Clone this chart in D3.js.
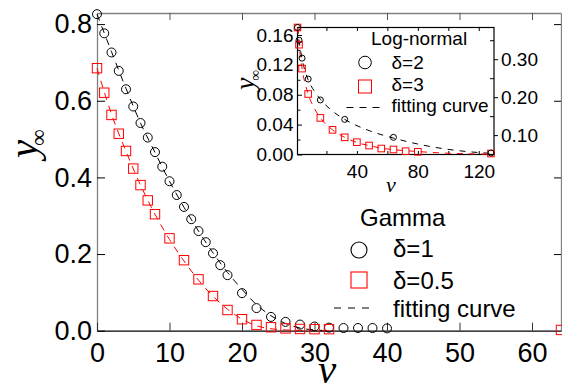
<!DOCTYPE html>
<html>
<head>
<meta charset="utf-8">
<script src="https://cdn.jsdelivr.net/npm/d3@7"></script>
<style>
  body { margin: 0; background: #fff; }
  svg { display: block; }
  text { font-family: "Liberation Sans", Arial, sans-serif; fill: #000; }
  .serif { font-family: "Liberation Serif", "Times New Roman", serif; font-style: italic; }
</style>
</head>
<body>
<svg id="chart" width="562" height="388"></svg>
<script>
// ---- Main panel: Gamma distributions ----
const gammaV1 = [0,1,2,3,4,5,6,7,8,9,10,11,12,13,14,15,16,17,18,20,22,24,26,28,30,32,34,36,38,40];
const gammaY1 = [0.826,0.776,0.726,0.678,0.630,0.585,0.542,0.504,0.466,0.428,0.390,0.354,0.323,0.291,0.260,0.231,0.202,0.171,0.145,0.098,0.059,0.036,0.023,0.016,0.011,0.008,0.007,0.007,0.007,0.006];
const gammaV05 = [0,1,2,3,4,5,6,7,8,10,12,14,16,18,20,22,24,26,28,30,32,64];
const gammaY05 = [0.685,0.621,0.563,0.514,0.469,0.423,0.380,0.340,0.304,0.241,0.184,0.134,0.0905,0.054,0.030,0.015,0.009,0.006,0.0045,0.004,0.004,0.002];
const gammaFitV1 = [0,2,4,6,8,10,12,14,16,18,20,22,24,26,28,30,32];
const gammaFitY1 = [0.826,0.728,0.632,0.542,0.465,0.390,0.322,0.260,0.203,0.152,0.108,0.068,0.039,0.019,0.007,0.002,0];
const gammaFitV05 = [0,2,4,6,8,10,12,14,16,18,20,22,24,26,28,30,32];
const gammaFitY05 = [0.685,0.565,0.468,0.380,0.304,0.238,0.182,0.132,0.090,0.056,0.030,0.013,0.005,0.002,0.001,0,0];
const mainXTicks = [0,10,20,30,40,50,60];
const mainYTicks = [0,0.2,0.4,0.6,0.8];

// ---- Inset: Log-normal distributions ----
const lnV2 = [1,2,4,8,16,32,64,128];
const lnY2 = [0.170,0.153,0.129,0.101,0.073,0.047,0.023,0.002];
const lnV3 = [1,2,4,8,16,24,32,40,48,56,64,72,80,128];
const lnY3 = [0.170,0.147,0.115,0.081,0.049,0.033,0.023,0.0165,0.012,0.008,0.0067,0.0044,0.0036,0.0013];
const lnFitV2 = [1,2,4,8,12,16,24,32,48,64,80,96,112,128];
const lnFitY2 = [0.170,0.153,0.128,0.100,0.085,0.074,0.058,0.047,0.032,0.022,0.014,0.008,0.004,0.0015];
const lnFitV3 = [1,2,4,8,12,16,24,32,40,48,56,64,80,96,112,128];
const lnFitY3 = [0.170,0.147,0.115,0.081,0.062,0.049,0.033,0.023,0.016,0.012,0.0085,0.0065,0.004,0.002,0.001,0.0005];
const insetXTicks = [20,40,60,80,100,120];
const insetXLabels = [40,80,120];
const insetYTicks = [0,0.02,0.04,0.06,0.08,0.10,0.12,0.14,0.16];
const insetYLabels = [0,0.04,0.08,0.12,0.16];
const insetRightLabels = [0.10,0.20,0.30];
const insetRightMinor = [0.15,0.25,0.35];

const RED = "#ff0000";
const svg = d3.select("#chart");

// main scales
const x = d3.scaleLinear().domain([0, 64]).range([97, 561]);
const y = d3.scaleLinear().domain([0, 0.829]).range([330.7, 13]);

// frame
function styleAxis(g, lineColor, fontSize) {
  g.select(".domain").attr("stroke", lineColor).attr("stroke-width", 1.3);
  g.selectAll(".tick line").attr("stroke", "#000").attr("stroke-width", 1);
  g.selectAll(".tick text").attr("font-size", fontSize)
    .attr("font-family", "'Liberation Sans', Arial, sans-serif").attr("fill", "#000");
}

const gTop = svg.append("g").attr("transform", "translate(0,13)")
  .call(d3.axisTop(x).tickValues(mainXTicks.slice(1)).tickSizeInner(-7).tickSizeOuter(0).tickFormat(""));
styleAxis(gTop, "#808080", 0);
gTop.selectAll(".tick line").attr("stroke", "#555");

const gRight = svg.append("g").attr("transform", "translate(561,0)")
  .call(d3.axisRight(y).tickValues(mainYTicks.slice(1)).tickSizeInner(-7).tickSizeOuter(0).tickFormat(""));
styleAxis(gRight, "#808080", 0);

const gLeft = svg.append("g").attr("transform", "translate(97,0)")
  .call(d3.axisLeft(y).tickValues(mainYTicks).tickSizeInner(-8).tickSizeOuter(0).tickPadding(5)
    .tickFormat(d3.format(".1f")));
styleAxis(gLeft, "#808080", 27);

const gBottom = svg.append("g").attr("transform", "translate(0,330.7)")
  .call(d3.axisBottom(x).tickValues(mainXTicks).tickSizeInner(-8).tickSizeOuter(0).tickPadding(12)
    .tickFormat(d3.format("d")));
styleAxis(gBottom, "#000", 27);
gBottom.selectAll(".tick line").attr("stroke", "#333");

// axis titles
svg.append("text").attr("class", "serif")
  .attr("x", 327).attr("y", 383).attr("text-anchor", "middle")
  .attr("font-size", 41).text("v");

const yTitle = svg.append("text").attr("class", "serif")
  .attr("transform", "translate(37,158) rotate(-90)")
  .attr("font-size", 41);
yTitle.append("tspan").text("y");
yTitle.append("tspan").attr("dx", -6).attr("dy", 9).attr("font-size", 23)
  .attr("font-style", "normal").text("∞");

// fitting curves (main)
const lineMain = d3.line().x(d => x(d[0])).y(d => y(d[1])).curve(d3.curveMonotoneX);
svg.append("path").datum(d3.zip(gammaFitV1, gammaFitY1))
  .attr("d", lineMain).attr("fill", "none").attr("stroke", "#000")
  .attr("stroke-width", 1).attr("stroke-dasharray", "7,6");
svg.append("path").datum(d3.zip(gammaFitV05, gammaFitY05))
  .attr("d", lineMain).attr("fill", "none").attr("stroke", RED)
  .attr("stroke-width", 1).attr("stroke-dasharray", "7,6");

// markers (main)
svg.append("g").selectAll("circle").data(d3.zip(gammaV1, gammaY1)).join("circle")
  .attr("cx", d => x(d[0])).attr("cy", d => y(d[1])).attr("r", 4.5)
  .attr("fill", "none").attr("stroke", "#000").attr("stroke-width", 1);
svg.append("g").selectAll("rect").data(d3.zip(gammaV05, gammaY05)).join("rect")
  .attr("x", d => x(d[0]) - 4.7).attr("y", d => y(d[1]) - 4.7)
  .attr("width", 9.4).attr("height", 9.4)
  .attr("fill", "none").attr("stroke", RED).attr("stroke-width", 1);

// main legend
const lg = svg.append("g");
lg.append("text").attr("x", 360).attr("y", 226).attr("font-size", 24).text("Gamma");
lg.append("circle").attr("cx", 359).attr("cy", 250).attr("r", 8)
  .attr("fill", "none").attr("stroke", "#000").attr("stroke-width", 1.1);
lg.append("text").attr("x", 393).attr("y", 257).attr("font-size", 24).text("δ=1");
lg.append("rect").attr("x", 351).attr("y", 272).attr("width", 16).attr("height", 16)
  .attr("fill", "none").attr("stroke", RED).attr("stroke-width", 1.1);
lg.append("text").attr("x", 393).attr("y", 288.5).attr("font-size", 24).text("δ=0.5");
lg.append("line").attr("x1", 334).attr("x2", 376).attr("y1", 308).attr("y2", 308)
  .attr("stroke", "#000").attr("stroke-width", 1).attr("stroke-dasharray", "7,7");
lg.append("text").attr("x", 393).attr("y", 316.5).attr("font-size", 24).text("fitting curve");

// ---- inset ----
const xi = d3.scaleLinear().domain([1, 130]).range([297.5, 494]);
const yi = d3.scaleLinear().domain([0, 0.17]).range([154.5, 27.5]);
const yr = d3.scaleLinear().domain([0.049, 0.3835]).range([154.5, 27.5]);

const inset = svg.append("g");
inset.append("rect").attr("x", 297.5).attr("y", 27.5).attr("width", 494 - 297.5).attr("height", 127)
  .attr("fill", "#fff").attr("stroke", "#000").attr("stroke-width", 1.2);

function styleInset(g, fontSize) {
  g.select(".domain").remove();
  g.selectAll(".tick line").attr("stroke", "#000").attr("stroke-width", 1);
  g.selectAll(".tick text").attr("font-size", fontSize)
    .attr("font-family", "'Liberation Sans', Arial, sans-serif").attr("fill", "#000");
}

const giB = inset.append("g").attr("transform", "translate(0,154.5)")
  .call(d3.axisBottom(xi).tickValues(insetXTicks).tickSizeInner(-3.5).tickSizeOuter(0).tickPadding(10)
    .tickFormat(d => insetXLabels.includes(d) ? d : ""));
styleInset(giB, 19);
const giT = inset.append("g").attr("transform", "translate(0,27.5)")
  .call(d3.axisTop(xi).tickValues(insetXTicks).tickSizeInner(-3.5).tickSizeOuter(0).tickFormat(""));
styleInset(giT, 0);
const giL = inset.append("g").attr("transform", "translate(297.5,0)")
  .call(d3.axisLeft(yi).tickValues(insetYTicks).tickSizeOuter(0).tickPadding(4)
    .tickSizeInner(-3.5)
    .tickFormat(d => insetYLabels.some(v => Math.abs(v - d) < 1e-9) ? d3.format(".2f")(d) : ""));
styleInset(giL, 19);
giL.selectAll(".tick line").attr("x2", d => insetYLabels.some(v => Math.abs(v - d) < 1e-9) ? 4.5 : 3);

const giR = inset.append("g").attr("transform", "translate(494,0)")
  .call(d3.axisRight(yr).tickValues(insetRightLabels).tickSizeInner(4).tickSizeOuter(0).tickPadding(3)
    .tickFormat(d3.format(".2f")));
styleInset(giR, 19);
inset.append("g").attr("transform", "translate(494,0)")
  .call(d3.axisRight(yr).tickValues(insetRightMinor).tickSizeInner(-4).tickSizeOuter(0).tickFormat(""))
  .call(g => styleInset(g, 0));

// inset titles
inset.append("text").attr("class", "serif").attr("x", 391).attr("y", 192)
  .attr("text-anchor", "middle").attr("font-size", 22).text("v");
const yiTitle = inset.append("text").attr("class", "serif")
  .attr("transform", "translate(254,90) rotate(-90)").attr("font-size", 28);
yiTitle.append("tspan").text("y");
yiTitle.append("tspan").attr("dx", -3).attr("dy", 6).attr("font-size", 15)
  .attr("font-style", "normal").text("∞");

// inset fitting curves
const lineInset = d3.line().x(d => xi(d[0])).y(d => yi(d[1])).curve(d3.curveMonotoneX);
inset.append("path").datum(d3.zip(lnFitV2, lnFitY2))
  .attr("d", lineInset).attr("fill", "none").attr("stroke", "#000")
  .attr("stroke-width", 1).attr("stroke-dasharray", "6,6");
inset.append("path").datum(d3.zip(lnFitV3, lnFitY3))
  .attr("d", lineInset).attr("fill", "none").attr("stroke", RED)
  .attr("stroke-width", 1).attr("stroke-dasharray", "6,6");

// inset markers
inset.append("g").selectAll("rect").data(d3.zip(lnV3, lnY3)).join("rect")
  .attr("x", d => xi(d[0]) - 3.3).attr("y", d => yi(d[1]) - 3.3)
  .attr("width", 6.6).attr("height", 6.6)
  .attr("fill", "none").attr("stroke", RED).attr("stroke-width", 1);
inset.append("g").selectAll("circle").data(d3.zip(lnV2, lnY2)).join("circle")
  .attr("cx", d => xi(d[0])).attr("cy", d => yi(d[1])).attr("r", 3)
  .attr("fill", "none").attr("stroke", "#000").attr("stroke-width", 1);

// inset legend
inset.append("text").attr("x", 371).attr("y", 45).attr("font-size", 19).text("Log-normal");
inset.append("circle").attr("cx", 365).attr("cy", 62.5).attr("r", 6.3)
  .attr("fill", "none").attr("stroke", "#000").attr("stroke-width", 1);
inset.append("text").attr("x", 391.5).attr("y", 68.5).attr("font-size", 19).text("δ=2");
inset.append("rect").attr("x", 358.5).attr("y", 80).attr("width", 13).attr("height", 13)
  .attr("fill", "none").attr("stroke", RED).attr("stroke-width", 1);
inset.append("text").attr("x", 391.5).attr("y", 91).attr("font-size", 19).text("δ=3");
inset.append("line").attr("x1", 346.5).attr("x2", 384).attr("y1", 107.5).attr("y2", 107.5)
  .attr("stroke", "#000").attr("stroke-width", 1).attr("stroke-dasharray", "7,6");
inset.append("text").attr("x", 391.5).attr("y", 112).attr("font-size", 19).text("fitting curve");
</script>
</body>
</html>
